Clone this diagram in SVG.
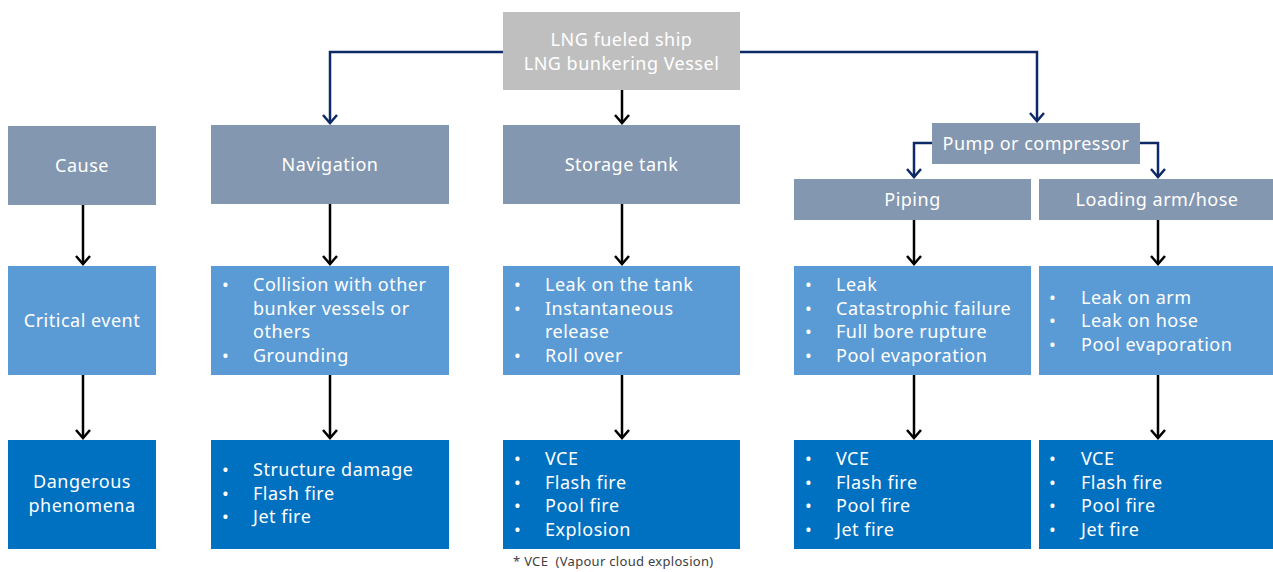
<svg xmlns="http://www.w3.org/2000/svg" width="1273" height="572" viewBox="0 0 1273 572">
<defs>
<style>
.gray{fill:#bfbfbf}
.slate{fill:#8497b0}
.mid{fill:#5b9bd5}
.dark{fill:#0070c0}
text{font-family:"Noto Sans","Open Sans","DejaVu Sans",sans-serif;font-size:18px;fill:#ffffff;letter-spacing:0.5px}
.c{text-anchor:middle}
.note{font-size:13px;fill:#404040;letter-spacing:0.3px}
.blk{stroke:#000000;stroke-width:2.5;fill:none}
.nav{stroke:#0d2a66;stroke-width:2.5;fill:none}
</style>
<marker id="ab" markerUnits="userSpaceOnUse" markerWidth="20" markerHeight="20" viewBox="-10 -10 20 20" refX="0" refY="0" orient="auto">
<path d="M-8,-7 L0,0 L-8,7" fill="none" stroke="#000000" stroke-width="2.5"/>
</marker>
<marker id="an" markerUnits="userSpaceOnUse" markerWidth="20" markerHeight="20" viewBox="-10 -10 20 20" refX="0" refY="0" orient="auto">
<path d="M-8,-7 L0,0 L-8,7" fill="none" stroke="#0d2a66" stroke-width="2.5"/>
</marker>
</defs>
<rect width="1273" height="572" fill="#ffffff"/>

<g id="connectors">
<path class="nav" d="M503,52 H330 V123" marker-end="url(#an)"/>
<path class="nav" d="M740,52 H1037 V121" marker-end="url(#an)"/>
<path class="nav" d="M932,143 H914 V177" marker-end="url(#an)"/>
<path class="nav" d="M1140,143 H1158 V177" marker-end="url(#an)"/>
<path class="blk" d="M622,90 V123" marker-end="url(#ab)"/>
<path class="blk" d="M83,205 V264" marker-end="url(#ab)"/>
<path class="blk" d="M330,204 V264" marker-end="url(#ab)"/>
<path class="blk" d="M622,204 V264" marker-end="url(#ab)"/>
<path class="blk" d="M914,220 V264" marker-end="url(#ab)"/>
<path class="blk" d="M1158,220 V264" marker-end="url(#ab)"/>
<path class="blk" d="M83,375 V438" marker-end="url(#ab)"/>
<path class="blk" d="M330,375 V438" marker-end="url(#ab)"/>
<path class="blk" d="M622,375 V438" marker-end="url(#ab)"/>
<path class="blk" d="M914,375 V438" marker-end="url(#ab)"/>
<path class="blk" d="M1158,375 V438" marker-end="url(#ab)"/>
</g>

<g id="top">
<rect class="gray" x="503" y="12" width="237" height="78"/>
<text class="c" x="621.5" y="46">LNG fueled ship</text>
<text class="c" x="621.5" y="70">LNG bunkering Vessel</text>
</g>

<g id="cause">
<rect class="slate" x="8" y="126" width="148" height="79"/>
<text class="c" x="82" y="172">Cause</text>
</g>
<g id="navigation">
<rect class="slate" x="211" y="125" width="238" height="79"/>
<text class="c" x="330" y="171">Navigation</text>
</g>
<g id="storage">
<rect class="slate" x="503" y="125" width="237" height="79"/>
<text class="c" x="621.5" y="171">Storage tank</text>
</g>
<g id="pump">
<rect class="slate" x="932" y="123" width="208" height="41"/>
<text class="c" x="1036" y="150">Pump or compressor</text>
</g>
<g id="piping">
<rect class="slate" x="794" y="179" width="237" height="41"/>
<text class="c" x="912.5" y="206">Piping</text>
</g>
<g id="loading">
<rect class="slate" x="1039" y="179" width="237" height="41"/>
<text class="c" x="1157" y="206">Loading arm/hose</text>
</g>

<g id="critical">
<rect class="mid" x="8" y="266" width="148" height="109"/>
<text class="c" x="82" y="327">Critical event</text>
</g>
<g id="nav-event">
<rect class="mid" x="211" y="266" width="238" height="109"/>
<text x="222" y="291">•</text><text x="253" y="291">Collision with other</text>
<text x="253" y="315">bunker vessels or</text>
<text x="253" y="338">others</text>
<text x="222" y="362">•</text><text x="253" y="362">Grounding</text>
</g>
<g id="storage-event">
<rect class="mid" x="503" y="266" width="237" height="109"/>
<text x="514" y="291">•</text><text x="545" y="291">Leak on the tank</text>
<text x="514" y="315">•</text><text x="545" y="315">Instantaneous</text>
<text x="545" y="338">release</text>
<text x="514" y="362">•</text><text x="545" y="362">Roll over</text>
</g>
<g id="piping-event">
<rect class="mid" x="794" y="266" width="237" height="109"/>
<text x="805" y="291">•</text><text x="836" y="291">Leak</text>
<text x="805" y="315">•</text><text x="836" y="315">Catastrophic failure</text>
<text x="805" y="338">•</text><text x="836" y="338">Full bore rupture</text>
<text x="805" y="362">•</text><text x="836" y="362">Pool evaporation</text>
</g>
<g id="loading-event">
<rect class="mid" x="1039" y="266" width="237" height="109"/>
<text x="1049" y="304">•</text><text x="1081" y="304">Leak on arm</text>
<text x="1049" y="327">•</text><text x="1081" y="327">Leak on hose</text>
<text x="1049" y="351">•</text><text x="1081" y="351">Pool evaporation</text>
</g>

<g id="dangerous">
<rect class="dark" x="8" y="440" width="148" height="109"/>
<text class="c" x="82" y="488">Dangerous</text>
<text class="c" x="82" y="512">phenomena</text>
</g>
<g id="nav-phen">
<rect class="dark" x="211" y="440" width="238" height="109"/>
<text x="222" y="476">•</text><text x="253" y="476">Structure damage</text>
<text x="222" y="500">•</text><text x="253" y="500">Flash fire</text>
<text x="222" y="523">•</text><text x="253" y="523">Jet fire</text>
</g>
<g id="storage-phen">
<rect class="dark" x="503" y="440" width="237" height="109"/>
<text x="514" y="465">•</text><text x="545" y="465">VCE</text>
<text x="514" y="489">•</text><text x="545" y="489">Flash fire</text>
<text x="514" y="512">•</text><text x="545" y="512">Pool fire</text>
<text x="514" y="536">•</text><text x="545" y="536">Explosion</text>
</g>
<g id="piping-phen">
<rect class="dark" x="794" y="440" width="237" height="109"/>
<text x="805" y="465">•</text><text x="836" y="465">VCE</text>
<text x="805" y="489">•</text><text x="836" y="489">Flash fire</text>
<text x="805" y="512">•</text><text x="836" y="512">Pool fire</text>
<text x="805" y="536">•</text><text x="836" y="536">Jet fire</text>
</g>
<g id="loading-phen">
<rect class="dark" x="1039" y="440" width="237" height="109"/>
<text x="1049" y="465">•</text><text x="1081" y="465">VCE</text>
<text x="1049" y="489">•</text><text x="1081" y="489">Flash fire</text>
<text x="1049" y="512">•</text><text x="1081" y="512">Pool fire</text>
<text x="1049" y="536">•</text><text x="1081" y="536">Jet fire</text>
</g>

<g id="footnote">
<text class="note" x="513" y="566" xml:space="preserve">* VCE  (Vapour cloud explosion)</text>
</g>
</svg>
